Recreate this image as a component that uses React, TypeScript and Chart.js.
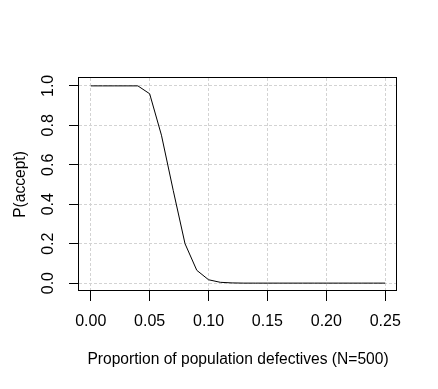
import React, { useEffect, useRef } from "react";
import { Chart, registerables } from "chart.js";

Chart.register(...registerables);

// ---- data ----
const proportions = [
  0, 0.01, 0.02, 0.03, 0.04, 0.05, 0.06, 0.07, 0.08, 0.09, 0.1, 0.11, 0.12,
  0.13, 0.14, 0.15, 0.16, 0.17, 0.18, 0.19, 0.2, 0.21, 0.22, 0.23, 0.24, 0.25,
];
const pAccept = [
  1, 1, 1, 1, 1, 0.96, 0.75, 0.47, 0.2, 0.065, 0.017, 0.004, 0.001,
  0, 0, 0, 0, 0, 0, 0, 0, 0, 0, 0, 0, 0,
];
const xTicks = [0, 0.05, 0.1, 0.15, 0.2, 0.25];
const xTickLabels = ["0.00", "0.05", "0.10", "0.15", "0.20", "0.25"];
const yTicks = [0, 0.2, 0.4, 0.6, 0.8, 1];
const yTickLabels = ["0.0", "0.2", "0.4", "0.6", "0.8", "1.0"];
const xTitle = "Proportion of population defectives (N=500)";
const yTitle = "P(accept)";

const FONT_FAMILY = "'Liberation Sans', Arial, sans-serif";

export default function App() {
  const ref = useRef<HTMLCanvasElement | null>(null);

  useEffect(() => {
    if (!ref.current) return;
    const font = { family: FONT_FAMILY, size: 16 };
    const titleFont = { family: FONT_FAMILY, size: 15.6 };

    const boxAndLabels = {
      id: "boxAndLabels",
      afterDraw(chart: any) {
        const { ctx, chartArea } = chart;
        const { left, right, top, bottom } = chartArea;
        ctx.save();
        ctx.strokeStyle = "#000";
        ctx.lineWidth = 1;
        ctx.setLineDash([]);
        ctx.strokeRect(
          Math.round(left) - 0.5,
          Math.round(top) - 0.5,
          Math.round(right) - Math.round(left),
          Math.round(bottom) - Math.round(top)
        );
        // rotated y tick labels (R style)
        const ys = chart.scales.y;
        ctx.fillStyle = "#000";
        ctx.font = `16px ${FONT_FAMILY}`;
        ctx.textAlign = "center";
        ctx.textBaseline = "middle";
        yTicks.forEach((v, i) => {
          const py = ys.getPixelForValue(v);
          ctx.save();
          ctx.translate(49, py);
          ctx.rotate(-Math.PI / 2);
          ctx.fillText(yTickLabels[i], 0, 0);
          ctx.restore();
        });
        ctx.restore();
      },
    };

    const chart = new Chart(ref.current, {
      type: "scatter",
      data: {
        datasets: [
          {
            data: proportions.map((x, i) => ({ x, y: pAccept[i] })),
            showLine: true,
            borderColor: "#000",
            borderWidth: 1,
            pointRadius: 0,
            tension: 0,
            fill: false,
          },
        ],
      },
      options: {
        responsive: false,
        animation: false,
        layout: { padding: { left: 0, top: 78, right: 41, bottom: 0 } },
        plugins: { legend: { display: false }, tooltip: { enabled: false } },
        scales: {
          x: {
            type: "linear",
            min: -0.01,
            max: 0.26,
            afterBuildTicks: (s: any) => {
              s.ticks = xTicks.map((v) => ({ value: v }));
            },
            afterFit: (s: any) => {
              s.height = 98;
              s.paddingLeft = 0;
              s.paddingRight = 0;
            },
            grid: {
              color: "#d3d3d3",
              lineWidth: 1,
              tickColor: "#000",
              tickLength: 10,
              drawTicks: true,
            },
            border: { display: false, dash: [3, 2] },
            ticks: {
              font,
              color: "#000",
              padding: 11,
              maxRotation: 0,
              autoSkip: false,
              callback: (_v: any, i: number) => xTickLabels[i],
            },
            title: {
              display: true,
              text: xTitle,
              font: titleFont,
              color: "#000",
              padding: { top: 0, bottom: 20 },
            },
          },
          y: {
            type: "linear",
            min: -0.04,
            max: 1.04,
            afterBuildTicks: (s: any) => {
              s.ticks = yTicks.map((v) => ({ value: v }));
            },
            afterFit: (s: any) => {
              s.width = 79;
              s.paddingTop = 0;
              s.paddingBottom = 0;
            },
            grid: {
              color: "#d3d3d3",
              lineWidth: 1,
              tickColor: "#000",
              tickLength: 10,
              drawTicks: true,
            },
            border: { display: false, dash: [3, 2] },
            ticks: { display: false },
            title: {
              display: true,
              text: yTitle,
              font: titleFont,
              color: "#000",
              padding: { top: 11, bottom: 0 },
            },
          },
        },
      },
      plugins: [boxAndLabels],
    } as any);

    return () => chart.destroy();
  }, []);

  return (
    <canvas
      ref={ref}
      width={438}
      height={389}
      style={{ position: "absolute", left: 0, top: 0, display: "block", background: "#fff" }}
    />
  );
}
